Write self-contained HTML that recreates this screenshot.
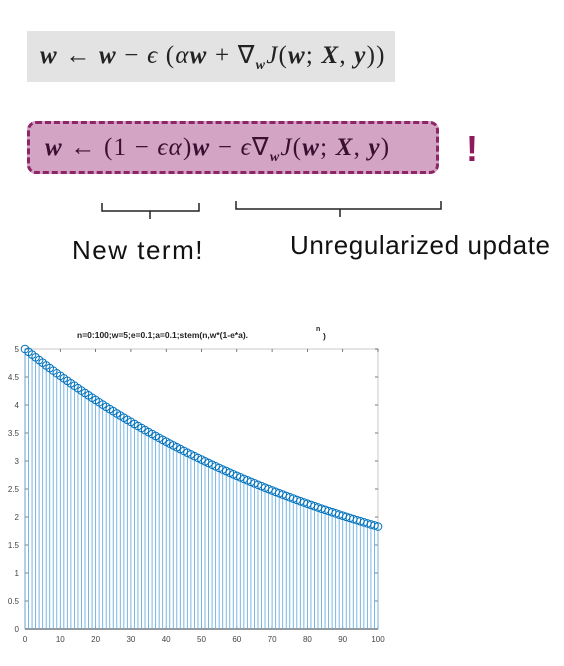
<!DOCTYPE html>
<html><head><meta charset="utf-8"><style>
body{margin:0;width:564px;height:666px;background:#fff;position:relative;overflow:hidden;font-family:"Liberation Sans",sans-serif}
.abs{position:absolute}
.math{font-family:"Liberation Serif",serif;font-size:25px;letter-spacing:1.2px;white-space:nowrap;color:#222}
.math b{font-style:italic}
</style></head><body>
<div class="abs" style="left:27px;top:31px;width:368px;height:51px;background:#e3e3e3"></div>
<div class="abs math" style="left:40px;top:40px"><b>w</b> ← <b>w</b> − <i>ϵ</i> (<i>α</i><b>w</b> + ∇<sub style="font-size:14px"><b>w</b></sub><i>J</i>(<b>w</b>; <b>X</b>, <b>y</b>))</div>
<div class="abs" style="left:27px;top:121px;width:412px;height:53px;background:#d3a4c3;border:3px dashed #8e2566;border-radius:9px;box-sizing:border-box"></div>
<div class="abs math" style="left:45px;top:132px;color:#3a1030"><b>w</b> ← (1 − <i>ϵα</i>)<b>w</b> − <i>ϵ</i>∇<sub style="font-size:14px"><b>w</b></sub><i>J</i>(<b>w</b>; <b>X</b>, <b>y</b>)</div>
<div class="abs" style="left:466px;top:128px;font-size:36px;font-weight:bold;color:#8e1a5c">!</div>
<svg class="abs" style="left:0;top:0" width="564" height="230">
<path d="M102 203 V211 H199 V203 M150 211 V219" fill="none" stroke="#222" stroke-width="1.5"/>
<path d="M236 201 V209 H441 V201 M340 209 V217" fill="none" stroke="#222" stroke-width="1.5"/>
</svg>
<div class="abs" style="left:72px;top:235px;font-size:26px;letter-spacing:1.5px;color:#111">New term!</div>
<div class="abs" style="left:290px;top:230px;font-size:26px;letter-spacing:0.6px;color:#111">Unregularized update</div>
<svg id="chart" class="abs" style="left:0;top:320px" width="564" height="346"></svg>
<script>
const xTicks=[0,10,20,30,40,50,60,70,80,90,100];
const yTicks=[0,0.5,1,1.5,2,2.5,3,3.5,4,4.5,5];
const yTickLabels=["0","0.5","1","1.5","2","2.5","3","3.5","4","4.5","5"];
const values=[5.000,4.950,4.901,4.851,4.803,4.755,4.707,4.660,4.614,4.567,4.522,4.477,4.432,4.388,4.344,4.300,4.257,4.215,4.173,4.131,4.090,4.049,4.008,3.968,3.928,3.889,3.850,3.812,3.774,3.736,3.699,3.662,3.625,3.589,3.553,3.517,3.482,3.447,3.413,3.379,3.345,3.311,3.278,3.246,3.213,3.181,3.149,3.118,3.087,3.056,3.025,2.995,2.965,2.935,2.906,2.877,2.848,2.820,2.791,2.763,2.736,2.708,2.681,2.655,2.628,2.602,2.576,2.550,2.524,2.499,2.474,2.449,2.425,2.401,2.377,2.353,2.329,2.306,2.283,2.260,2.238,2.215,2.193,2.171,2.149,2.128,2.107,2.086,2.065,2.044,2.024,2.003,1.983,1.964,1.944,1.925,1.905,1.886,1.867,1.849,1.830];
const svg=document.getElementById('chart');
const NS='http://www.w3.org/2000/svg';
const X0=25,X1=378,Y0=309,Y1=29;
const sx=v=>X0+(X1-X0)*v/100;
const sy=v=>Y0-(Y0-Y1)*v/5;
function mk(t,a){const e=document.createElementNS(NS,t);for(const k in a)e.setAttribute(k,a[k]);svg.appendChild(e);return e;}
let box=mk('rect',{x:X0,y:Y1,width:X1-X0,height:Y0-Y1,fill:'none',stroke:'#bbb','stroke-width':0.8});


let t=mk('text',{x:77,y:18,'font-size':8.5,'font-weight':'bold',fill:'#222'});
t.textContent='n=0:100;w=5;e=0.1;a=0.1;stem(n,w*(1-e*a).';


let t2=mk('text',{x:323,y:19,'font-size':8.5,'font-weight':'bold',fill:'#222'});
t2.textContent=')';


let t3=mk('text',{x:316,y:11,'font-size':7,'font-weight':'bold',fill:'#222'});
t3.textContent='n';


xTicks.forEach(v=>{
 mk('line',{x1:sx(v),x2:sx(v),y1:Y0,y2:Y0-3,stroke:'#444','stroke-width':0.7});
 mk('line',{x1:sx(v),x2:sx(v),y1:Y1,y2:Y1+3,stroke:'#444','stroke-width':0.7});
 let l=mk('text',{x:sx(v),y:Y0+13,'text-anchor':'middle','font-size':8,fill:'#444'});
 l.textContent=v;
 
 
});
yTicks.forEach((v,i)=>{
 mk('line',{x1:X0,x2:X0+3,y1:sy(v),y2:sy(v),stroke:'#444','stroke-width':0.7});
 mk('line',{x1:X1,x2:X1-3,y1:sy(v),y2:sy(v),stroke:'#444','stroke-width':0.7});
 let l=mk('text',{x:X0-6,y:sy(v)+3,'text-anchor':'end','font-size':8,fill:'#444'});
 l.textContent=yTickLabels[i];
 
 
});
mk('line',{x1:X0,x2:X1,y1:Y0,y2:Y0,stroke:'#333','stroke-width':1});
mk('line',{x1:X0,x2:X0,y1:Y0,y2:Y1,stroke:'#333','stroke-width':1});
values.forEach((v,n)=>{
 let s=mk('line',{x1:sx(n),x2:sx(n),y1:Y0,y2:sy(v),stroke:'#6aaee0','stroke-width':0.9});
 
 
});
values.forEach((v,n)=>{
 let c=mk('circle',{cx:sx(n),cy:sy(v),r:3.8,fill:'none',stroke:'#0072bd','stroke-width':1});
 
 
});
</script>
</body></html>
